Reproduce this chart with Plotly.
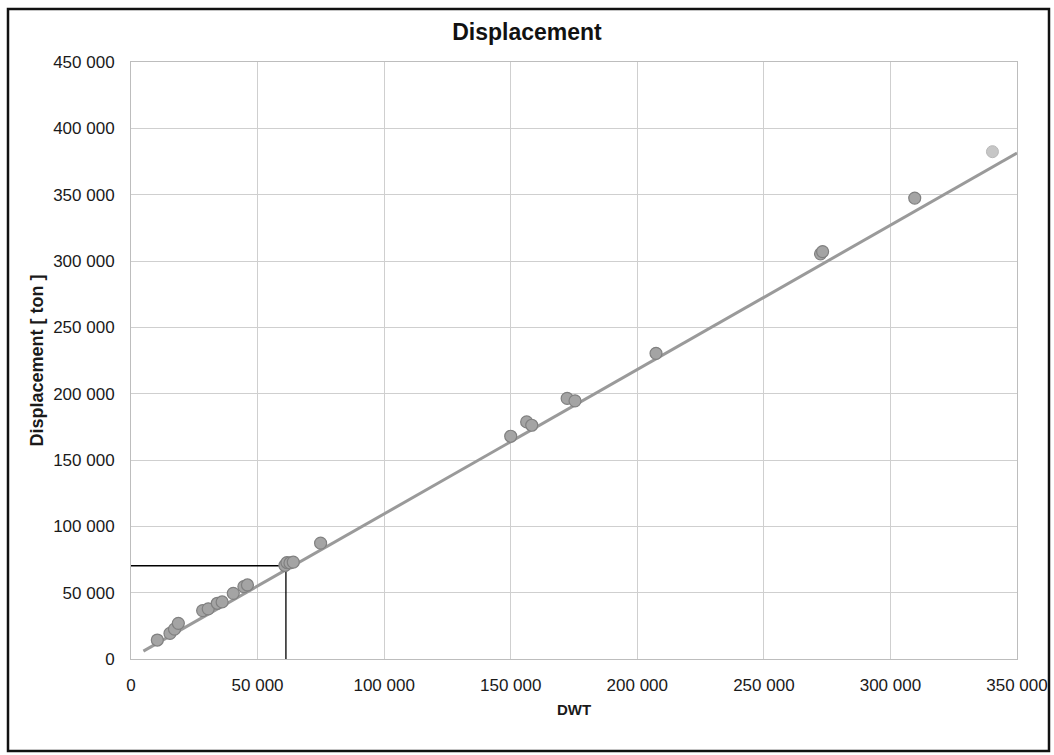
import plotly.graph_objects as go

# Data
dwt = [10400, 15400, 17200, 18700, 28300, 30500, 34100, 36000, 40400, 44600, 46000,
       60800, 61600, 62800, 64100, 74900,
       150000, 156300, 158300, 172300, 175400, 207400,
       272400, 273200, 309600]
displacement = [14300, 19300, 22500, 26900, 36500, 37800, 42000, 43000, 49500, 54600, 55800,
                70500, 72700, 72400, 73000, 87300,
                167900, 178700, 176200, 196400, 194600, 230400,
                305400, 307100, 347400]
light_dwt = [340300]
light_disp = [382400]

trend_x = [4900, 350000]
trend_y = [5900, 381400]

ref_x = [0, 61200, 61200]
ref_y = [70300, 70300, 0]

x_ticks = [0, 50000, 100000, 150000, 200000, 250000, 300000, 350000]
y_ticks = [0, 50000, 100000, 150000, 200000, 250000, 300000, 350000, 400000, 450000]

fig = go.Figure()
fig.add_trace(go.Scatter(x=ref_x, y=ref_y, mode="lines",
                         line=dict(color="black", width=1.3), hoverinfo="skip"))
fig.add_trace(go.Scatter(x=trend_x, y=trend_y, mode="lines",
                         line=dict(color="#9a9a9a", width=3)))
fig.add_trace(go.Scatter(x=dwt, y=displacement, mode="markers",
                         marker=dict(size=12, color="#a4a4a4",
                                     line=dict(color="#808080", width=1.2))))
fig.add_trace(go.Scatter(x=light_dwt, y=light_disp, mode="markers",
                         marker=dict(size=12, color="#c6c6c6",
                                     line=dict(color="#b8b8b8", width=1))))

l, r, t, b = 131, 37, 62, 96
W, H = 1054, 755
pw, ph = W - l - r, H - t - b

def px(xp):
    return (xp - l) / pw

def py(yp):
    return (H - b - yp) / ph

fig.update_layout(
    width=W, height=H,
    margin=dict(l=l, r=r, t=t, b=b, autoexpand=False),
    paper_bgcolor="white", plot_bgcolor="white",
    showlegend=False,
    separators=". ",
    font=dict(family="Liberation Sans, Arial, sans-serif", color="#1a1a1a"),
    title=dict(text="<b>Displacement</b>", x=0.5, xanchor="center",
               y=1 - 32 / H, yanchor="middle",
               font=dict(size=23, color="#111")),
    xaxis=dict(range=[0, 350000], tickvals=x_ticks, tickformat=",d",
               showgrid=True, gridcolor="#cfcfcf", gridwidth=1,
               zeroline=False, showline=True, linecolor="#bdbdbd",
               mirror=True, ticks="", tickfont=dict(size=17),
               ticklabelstandoff=11, automargin=False,
               title=dict(text="<b>DWT</b>", font=dict(size=15), standoff=10)),
    yaxis=dict(range=[0, 450000], tickvals=y_ticks, tickformat=",d",
               showgrid=True, gridcolor="#cfcfcf", gridwidth=1,
               zeroline=False, showline=True, linecolor="#bdbdbd",
               mirror=True, ticks="", tickfont=dict(size=17),
               ticklabelstandoff=12, automargin=False,
               title=dict(text="<b>Displacement [ ton ]</b>", font=dict(size=18), standoff=4)),
    shapes=[dict(type="rect", xref="paper", yref="paper",
                 x0=px(8), x1=px(1049), y0=py(751), y1=py(9),
                 line=dict(color="#111", width=2.5), layer="below")],
)

fig.write_html("out.html", config={"displayModeBar": False},
               post_script="document.body.style.margin='0';document.body.style.overflow='hidden';")
